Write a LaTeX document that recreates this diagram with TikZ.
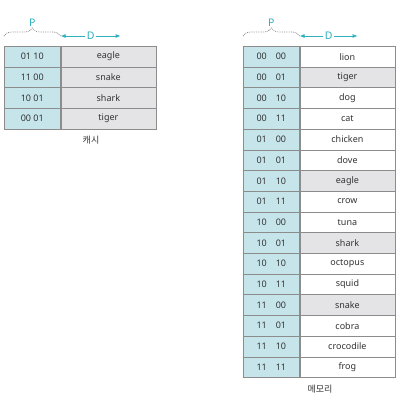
\documentclass[tikz,border=0pt]{standalone}
\usepackage{fontspec}
\setmainfont{Noto Sans}
\newfontfamily\kor{Noto Sans CJK KR}
\usetikzlibrary{positioning,decorations.pathreplacing,arrows.meta}

\definecolor{pblue}{HTML}{C6E5EB}
\definecolor{dgray}{HTML}{E4E4E6}
\definecolor{tealtxt}{HTML}{2FB0BD}
\definecolor{rulegray}{HTML}{8C8C8C}

\tikzset{
  cell/.style={draw=rulegray, line width=0.6pt, minimum height=20.7pt, inner sep=0pt,
    font=\fontsize{9}{10}\selectfont, text=black!80},
  pcell/.style={cell, fill=pblue, minimum width=56pt},
  dcell/.style={cell, minimum width=95pt},
  brace/.style={densely dotted, rulegray, line width=0.8pt, decorate,
    decoration={brace, amplitude=8pt}},
  darrow/.style={tealtxt, line width=0.8pt, {Latex[length=5pt,width=4pt]}-{Latex[length=5pt,width=4pt]}},
  tag/.style={text=tealtxt, font=\fontsize{10.5}{12}\selectfont, inner sep=1.5pt},
  caption/.style={font=\kor\fontsize{9}{10}\selectfont, text=black!80}
}

\begin{document}
\begin{tikzpicture}[x=1pt, y=-1pt]
\useasboundingbox (0,0) rectangle (401,404);

% cache
\foreach \i/\p/\d in {1/01 10/eagle, 2/11 00/snake, 3/10 01/shark, 4/00 01/tiger} {
  \node[pcell, anchor=north west] (c\i p) at (4,{46+(\i-1)*20.7}) {\p};
  \node[dcell, fill=dgray, right=0pt of c\i p] (c\i d) {\d};
}
\node[caption] (cname) at (91,140) {캐시};

\draw[brace] ([yshift=10pt]c1p.north west) -- ([yshift=10pt]c1p.north east)
  node[tag, midway, above=8pt] (cP) {P};
\coordinate (cDa) at ([yshift=10pt]c1d.north west);
\coordinate (cDb) at ([xshift=60pt, yshift=10pt]c1d.north west);
\draw[darrow] (cDa) -- (cDb) node[tag, midway, fill=white] (cD) {D};

% memory
\foreach \i/\a/\b/\d/\f in {1/00/00/lion/white, 2/00/01/tiger/dgray, 3/00/10/dog/white,
    4/00/11/cat/white, 5/01/00/chicken/white, 6/01/01/dove/white, 7/01/10/eagle/dgray,
    8/01/11/crow/white, 9/10/00/tuna/white, 10/10/01/shark/dgray, 11/10/10/octopus/white,
    12/10/11/squid/white, 13/11/00/snake/dgray, 14/11/01/cobra/white,
    15/11/10/crocodile/white, 16/11/11/frog/white} {
  \node[pcell, anchor=north west] (m\i p) at (243,{46+(\i-1)*20.7}) {\a\hspace{9pt}\b};
  \node[dcell, fill=\f, right=0pt of m\i p] (m\i d) {\d};
}
\node[caption] (mname) at (320,389) {메모리};

\draw[brace] ([yshift=10pt]m1p.north west) -- ([yshift=10pt]m1p.north east)
  node[tag, midway, above=8pt] (mP) {P};
\coordinate (mDa) at ([yshift=10pt]m1d.north west);
\coordinate (mDb) at ([xshift=58pt, yshift=10pt]m1d.north west);
\draw[darrow] (mDa) -- (mDb) node[tag, midway, fill=white] (mD) {D};
\end{tikzpicture}
\end{document}
